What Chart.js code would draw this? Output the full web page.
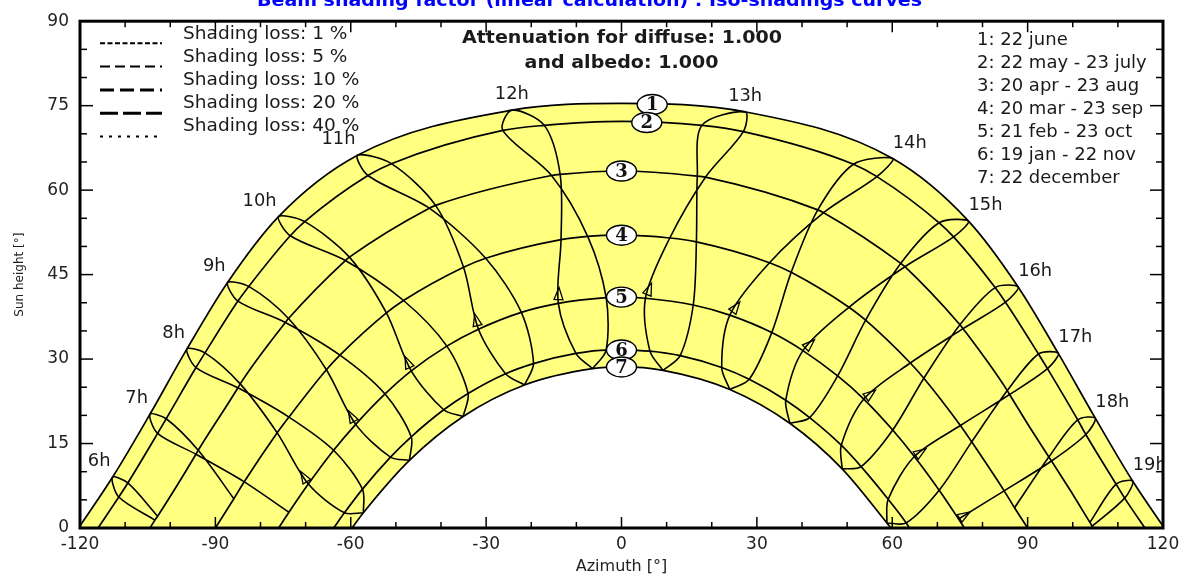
<!DOCTYPE html>
<html>
<head>
<meta charset="utf-8">
<title>Iso-shadings curves</title>
<script src="https://cdn.jsdelivr.net/npm/chart.js@4.4.1/dist/chart.umd.min.js"></script>
<style>
  html, body { margin: 0; padding: 0; background: #fff; }
  #box { width: 1194px; height: 581px; }
</style>
</head>
<body>
<div id="box"><canvas id="sunChart"></canvas></div>
<script>
// sun position [azimuth, height] for every hour, dates in this order (loop closes on 22 dec)
const loopDates = ['22 dec', '19 jan', '21 feb', '20 mar', '20 apr', '22 may', '22 jun',
                   '23 jul', '23 aug', '23 sep', '23 oct', '22 nov', '22 dec'];
const hourLabels = ['6h', '7h', '8h', '9h', '10h', '11h', '12h', '13h', '14h', '15h', '16h', '17h', '18h', '19h'];

const h6  = [null, null, null, null, [-102.8, 2.1], [-109.4, 8.0], [-112.8, 9.0], [-111.4, 5.5], [-103.4, 1.4], null, null, null, null];
const h7  = [null, null, null, [-85.9, 5.2], [-93.8, 13.8], [-100.9, 19.4], [-104.5, 20.2], [-102.8, 16.8], [-94.3, 13.1], [-83.6, 8.2], [-73.7, 2.8], null, null];
const h8  = [[-57.2, 2.7], [-61.4, 2.7], [-69.4, 7.8], [-76.3, 16.9], [-84.5, 25.6], [-92.3, 31.1], [-96.3, 31.8], [-94.3, 28.5], [-85.0, 24.9], [-73.7, 19.7], [-63.8, 13.8], [-57.4, 6.9], [-57.2, 2.7]];
const h9  = [[-47.0, 12.0], [-51.2, 12.6], [-58.9, 18.4], [-65.4, 28.1], [-73.8, 37.2], [-82.6, 42.9], [-87.3, 43.6], [-85.0, 40.3], [-74.5, 36.5], [-62.4, 30.7], [-52.4, 23.8], [-46.6, 16.2], [-47.0, 12.0]];
const h10 = [[-35.1, 19.8], [-39.4, 21.0], [-46.6, 27.9], [-52.1, 38.2], [-60.3, 48.1], [-70.2, 54.4], [-76.0, 55.3], [-73.4, 51.9], [-61.2, 47.5], [-48.3, 40.4], [-38.7, 32.3], [-34.0, 23.9], [-35.1, 19.8]];
const h11 = [[-21.5, 25.4], [-25.7, 27.4], [-31.7, 35.3], [-35.0, 46.3], [-41.2, 57.3], [-51.0, 64.7], [-58.5, 66.2], [-56.2, 62.6], [-42.6, 56.8], [-30.1, 47.9], [-22.2, 38.3], [-19.5, 29.2], [-21.5, 25.4]];
const h12 = [[-6.4, 28.3], [-10.1, 31.0], [-14.0, 39.9], [-13.4, 51.2], [-13.6, 62.8], [-17.1, 71.5], [-24.3, 74.2], [-26.3, 70.6], [-15.5, 62.6], [-7.5, 51.8], [-3.4, 40.9], [-3.4, 31.6], [-6.4, 28.3]];
const h13 = [[9.2, 28.0], [6.3, 31.4], [5.3, 40.8], [10.7, 51.5], [18.6, 62.3], [27.0, 70.4], [27.4, 73.9], [17.8, 71.5], [16.8, 62.5], [16.6, 50.8], [15.9, 39.6], [13.0, 30.6], [9.2, 28.0]];
const h14 = [[24.0, 24.6], [22.2, 28.5], [24.0, 37.8], [32.8, 47.1], [44.8, 56.0], [56.6, 62.4], [60.1, 65.6], [51.4, 64.6], [43.5, 56.5], [37.6, 45.4], [33.3, 34.7], [28.3, 26.4], [24.0, 24.6]];
const h15 = [[37.3, 18.6], [36.4, 22.7], [40.2, 31.5], [50.4, 39.2], [62.8, 46.4], [73.6, 51.7], [76.9, 54.5], [70.4, 54.2], [61.9, 47.0], [54.1, 36.9], [47.9, 27.0], [41.7, 19.6], [37.3, 18.6]];
const h16 = [[48.9, 10.5], [48.7, 14.7], [53.7, 22.9], [64.0, 29.3], [75.7, 35.4], [85.1, 40.1], [87.9, 42.8], [82.8, 42.7], [75.0, 36.1], [67.0, 26.6], [60.1, 17.4], [53.1, 10.9], [48.9, 10.5]];
const h17 = [[58.8, 0.9], [59.1, 5.1], [64.9, 12.7], [75.1, 18.2], [86.0, 23.7], [94.4, 28.3], [96.8, 31.0], [92.4, 30.9], [85.5, 24.4], [77.6, 15.3], [70.4, 6.7], [63.1, 0.9], [58.8, 0.9]];
const h18 = [null, null, [74.7, 1.6], [84.8, 6.6], [95.3, 11.9], [102.9, 16.6], [105.0, 19.5], [101.1, 19.2], [94.7, 12.6], [87.1, 3.6], null, null, null];
const h19 = [null, null, null, null, [104.3, 0.3], [111.5, 5.3], [113.3, 8.3], [109.6, 7.8], [103.8, 1.0], null, null, null, null];
const hours = [h6, h7, h8, h9, h10, h11, h12, h13, h14, h15, h16, h17, h18, h19];

// date curves 1..7 : azimuth of sunrise/sunset and height at solar noon
const sunriseAz = [120.3, 116.0, 104.5, 90.0, 76.0, 63.8, 59.7];
const noonHeight = [75.4, 72.2, 63.4, 52.0, 41.0, 31.6, 28.6];
// where the numbered markers sit on each date curve
const labelPos = [[6.8, 75.2], [5.6, 72.0], [0, 63.4], [0, 52.0], [0, 41.0], [0, 31.6], [0, 28.6]];

const dateLegend = ['1: 22 june', '2: 22 may - 23 july', '3: 20 apr - 23 aug', '4: 20 mar - 23 sep',
                    '5: 21 feb - 23 oct', '6: 19 jan - 22 nov', '7: 22 december'];
const lossLegend = ['Shading loss: 1 %', 'Shading loss: 5 %', 'Shading loss: 10 %', 'Shading loss: 20 %', 'Shading loss: 40 %'];
const lossDash = [[5, 2.5], [10, 5], [14, 6], [18, 5], [3, 6]];
const lossWidth = [2, 2, 3, 3, 2];

const FONT = '"DejaVu Sans", "Liberation Sans", sans-serif';

// points of date curve k (0 = 22 june ... 6 = 22 december), sorted by azimuth
function datePoints(k) {
  const idx = k === 0 ? [6] : k === 6 ? [0] : [6 - k, 6 + k];
  const pts = [[-sunriseAz[k], 0], [0, noonHeight[k]], [sunriseAz[k], 0]];
  hours.forEach(h => idx.forEach(i => { if (h[i]) pts.push(h[i]); }));
  return pts.sort((a, b) => a[0] - b[0]).map(p => ({ x: p[0], y: p[1] }));
}

const datasets = [];
// yellow band between 22 june and 22 december
datasets.push({ data: datePoints(0), fill: 'origin', backgroundColor: '#ffff80', borderWidth: 0,
  cubicInterpolationMode: 'monotone', order: 30 });
datasets.push({ data: datePoints(6), fill: 'origin', backgroundColor: '#ffffff', borderWidth: 0,
  cubicInterpolationMode: 'monotone', order: 20 });
// date curves
for (let k = 0; k < 7; k++) {
  datasets.push({ data: datePoints(k), borderColor: '#000', borderWidth: 1.7, fill: false,
    cubicInterpolationMode: 'monotone', order: 1 });
}
// hour loops
hours.forEach(h => {
  datasets.push({ data: h.filter(p => p).map(p => ({ x: p[0], y: p[1] })), borderColor: '#000',
    borderWidth: 1.6, fill: false, tension: 0.3, order: 0 });
});

function text(ctx, s, x, y, font, align, sx, color, base) {
  ctx.save();
  ctx.font = font;
  ctx.fillStyle = color || '#1a1a1a';
  ctx.textAlign = align || 'left';
  ctx.textBaseline = base || 'middle';
  ctx.translate(x, y);
  ctx.scale(sx || 1, 1);
  ctx.fillText(s, 0, 0);
  ctx.restore();
}
function fitScale(ctx, s, font, w) {
  ctx.save();
  ctx.font = font;
  const m = ctx.measureText(s).width;
  ctx.restore();
  return w / m;
}

const decor = {
  id: 'decor',
  afterDatasetsDraw(chart) {
    const { ctx, chartArea: ca, scales: { x, y } } = chart;
    const pix = p => [x.getPixelForValue(p[0]), y.getPixelForValue(p[1])];
    const seg = (x1, y1, x2, y2) => { ctx.beginPath(); ctx.moveTo(x1, y1); ctx.lineTo(x2, y2); ctx.stroke(); };

    ctx.save();
    ctx.beginPath();
    ctx.rect(ca.left, ca.top, ca.width, ca.height);
    ctx.clip();

    // small arrows on the january -> june strand, just after 21 feb
    ctx.strokeStyle = '#000';
    ctx.lineWidth = 1.3;
    hours.forEach(h => {
      if (!h[2] || !h[3]) return;
      const [ax, ay] = pix(h[2]), [bx, by] = pix(h[3]);
      const d = Math.hypot(bx - ax, by - ay), ux = (bx - ax) / d, uy = (by - ay) / d;
      const tx = ax + ux * d * 0.25, ty = ay + uy * d * 0.25;
      const back = a => [tx - 13 * (ux * Math.cos(a) - uy * Math.sin(a)),
                         ty - 13 * (ux * Math.sin(a) + uy * Math.cos(a))];
      const l = back(0.35), r = back(-0.35);
      ctx.beginPath();
      ctx.moveTo(l[0], l[1]); ctx.lineTo(tx, ty); ctx.lineTo(r[0], r[1]); ctx.closePath();
      ctx.stroke();
    });

    // hour labels beside the 22 june point
    hours.forEach((h, i) => {
      const [px, py] = pix(h[6]);
      const n = i + 6;
      const align = n < 12 ? 'right' : (n > 13 ? 'left' : 'center');
      text(ctx, hourLabels[i], n < 12 ? px - 2 : px, py - 15.5, '17px ' + FONT, align, 1.05);
    });
    ctx.restore();

    // numbered markers of the date curves
    labelPos.forEach((p, i) => {
      const [cx, cy] = pix(p);
      ctx.beginPath();
      ctx.ellipse(cx, cy, 15, 10, 0, 0, Math.PI * 2);
      ctx.fillStyle = '#fff';
      ctx.fill();
      ctx.lineWidth = 1.4;
      ctx.strokeStyle = '#000';
      ctx.stroke();
      text(ctx, String(i + 1), cx, cy + 1, 'bold 18px "DejaVu Serif", serif', 'center', 1, '#111');
    });

    // frame with inward ticks
    ctx.strokeStyle = '#000';
    ctx.lineWidth = 1.5;
    for (let v = -120; v <= 120; v += 10) {
      const px = x.getPixelForValue(v), L = v % 30 === 0 ? 11 : 6;
      seg(px, ca.top, px, ca.top + L);
      seg(px, ca.bottom, px, ca.bottom - L);
    }
    for (let v = 0; v <= 90; v += 5) {
      const py = y.getPixelForValue(v), L = v % 15 === 0 ? 13 : 7;
      seg(ca.left, py, ca.left + L, py);
      seg(ca.right, py, ca.right - L, py);
    }
    ctx.lineWidth = 3;
    ctx.strokeRect(ca.left, ca.top, ca.width, ca.height);

    // shading loss legend
    lossLegend.forEach((s, i) => {
      const ly = 43.3 + 23.3 * i;
      ctx.save();
      ctx.setLineDash(lossDash[i]);
      ctx.lineWidth = lossWidth[i];
      ctx.strokeStyle = '#000';
      seg(100, ly, 162, ly);
      ctx.restore();
      text(ctx, s, 183, 34 + 23.2 * i, '18px ' + FONT, 'left', 1.03);
    });

    // date legend
    dateLegend.forEach((s, i) => {
      text(ctx, s, 977, 40 + 23 * i, '18px ' + FONT, 'left', 1.0);
    });

    // attenuation note
    const bf = 'bold 18px ' + FONT;
    const sx = fitScale(ctx, 'Attenuation for diffuse: 1.000', bf, 320);
    text(ctx, 'Attenuation for diffuse: 1.000', 622, 38.5, bf, 'center', sx);
    text(ctx, 'and albedo: 1.000', 621.5, 63.5, bf, 'center', sx);

    // title, cut by the top edge
    const tf = 'bold 17px ' + FONT;
    const title = 'Beam shading factor (linear calculation) : Iso-shadings curves';
    text(ctx, title, 589.5, 6, tf, 'center', fitScale(ctx, title, tf, 665), '#0000ff', 'alphabetic');
  }
};

new Chart(document.getElementById('sunChart'), {
  type: 'line',
  data: { datasets: datasets },
  options: {
    responsive: true,
    maintainAspectRatio: false,
    animation: false,
    devicePixelRatio: 1,
    layout: { padding: { top: 15, right: 31, bottom: 0, left: 0 } },
    elements: { point: { radius: 0, hoverRadius: 0 } },
    plugins: { legend: { display: false }, tooltip: { enabled: false } },
    events: [],
    scales: {
      x: {
        type: 'linear', min: -120, max: 120,
        ticks: { stepSize: 30, color: '#222', padding: 6, font: { family: FONT, size: 17 } },
        grid: { display: false, drawTicks: false },
        border: { display: false },
        title: { display: true, text: 'Azimuth [°]', color: '#222', font: { family: FONT, size: 16 },
          padding: { top: 0, bottom: 5 } },
        afterFit: s => { s.height = 53; }
      },
      y: {
        type: 'linear', min: 0, max: 90,
        ticks: { stepSize: 15, color: '#222', padding: 11, font: { family: FONT, size: 17 } },
        grid: { display: false, drawTicks: false },
        border: { display: false },
        title: { display: true, text: 'Sun height [°]', color: '#222', font: { family: FONT, size: 12 },
          padding: { top: 13, bottom: 0 } },
        afterFit: s => { s.width = 80; }
      }
    }
  },
  plugins: [decor]
});
</script>
</body>
</html>
